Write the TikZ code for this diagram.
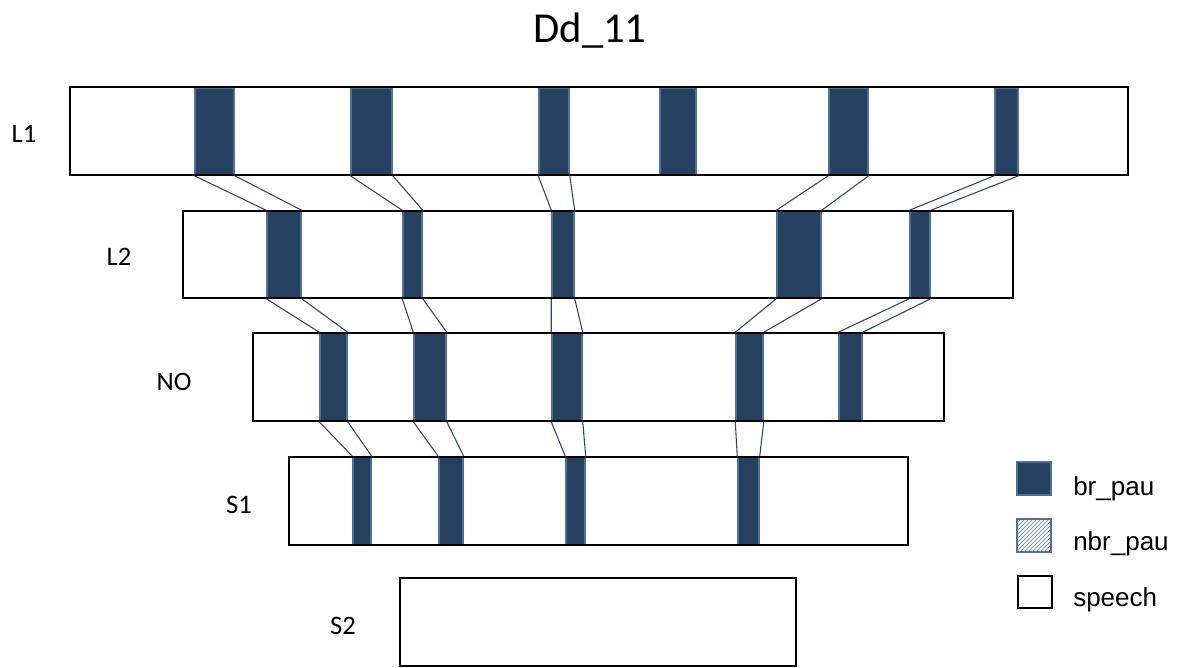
\documentclass[tikz,border=0pt]{standalone}
\usepackage{xcolor}
\usepackage{fontspec}
\setmainfont{Carlito}
\newfontfamily\legendfont{Liberation Sans}
\usepackage{tikz}
\usetikzlibrary{fit,patterns}

\definecolor{pauFill}{RGB}{38,64,96}
\definecolor{pauEdge}{RGB}{79,112,158}
\definecolor{linkCol}{RGB}{44,70,104}

\tikzset{
  speech/.style={draw=black,line width=1.6pt,inner sep=0pt},
  brpau/.style={fill=pauFill,draw=pauEdge,line width=1.1pt,inner sep=0pt},
  nbrpau/.style={pattern=north east lines,pattern color=pauEdge,draw=pauEdge,line width=1.6pt,inner sep=0pt},
  link/.style={draw=linkCol,line width=0.8pt},
  tierlabel/.style={inner sep=0pt,font=\fontsize{20}{24}\selectfont}
}

\begin{document}
\begin{tikzpicture}[x=0.75pt,y=0.75pt,yscale=-1,xscale=1]
\useasboundingbox (0,0) rectangle (1183,668);

% Title
\node[anchor=base,inner sep=0pt,font=\fontsize{32}{38}\selectfont] (title) at (590,42) {Dd\_11};

% Pauses L1
\node[brpau,fit={(195,88) (234,175)}] (l1a) {};
\node[brpau,fit={(351,88) (392,175)}] (l1b) {};
\node[brpau,fit={(539,88) (569,175)}] (l1c) {};
\node[brpau,fit={(660,88) (696,175)}] (l1d) {};
\node[brpau,fit={(829,88) (868,175)}] (l1e) {};
\node[brpau,fit={(995,88) (1018,175)}] (l1f) {};
% Pauses L2
\node[brpau,fit={(267,211) (301,298)}] (l2a) {};
\node[brpau,fit={(403,211) (422,298)}] (l2b) {};
\node[brpau,fit={(552,211) (574,298)}] (l2c) {};
\node[brpau,fit={(777,211) (821,298)}] (l2d) {};
\node[brpau,fit={(910,211) (930,298)}] (l2e) {};
% Pauses NO
\node[brpau,fit={(320,333) (347,421)}] (noa) {};
\node[brpau,fit={(414,333) (446,421)}] (nob) {};
\node[brpau,fit={(552,333) (582,421)}] (noc) {};
\node[brpau,fit={(736,333) (763,421)}] (nod) {};
\node[brpau,fit={(839,333) (862,421)}] (noe) {};
% Pauses S1
\node[brpau,fit={(353,457) (371,545)}] (s1a) {};
\node[brpau,fit={(439,457) (463,545)}] (s1b) {};
\node[brpau,fit={(566,457) (585,545)}] (s1c) {};
\node[brpau,fit={(738,457) (759,545)}] (s1d) {};

% Tiers
\node[speech,fit={(70,87) (1128,175)}] (L1) {};
\node[speech,fit={(183,211) (1013,298)}] (L2) {};
\node[speech,fit={(253,333) (944,421)}] (NO) {};
\node[speech,fit={(289,457) (908,545)}] (S1) {};
\node[speech,fit={(400,578) (796,666)}] (S2) {};

% Tier labels
\node[tierlabel] (lblL1) at (24,134) {L1};
\node[tierlabel] (lblL2) at (119,257) {L2};
\node[tierlabel] (lblNO) at (174,382) {NO};
\node[tierlabel] (lblS1) at (239,505) {S1};
\node[tierlabel] (lblS2) at (343,626) {S2};

%Straight Lines L1 - L2
\draw[link] (l1a.south west) -- (l2a.north west) (l1a.south east) -- (l2a.north east);
\draw[link] (l1b.south west) -- (l2b.north west) (l1b.south east) -- (l2b.north east);
\draw[link] (l1c.south west) -- (l2c.north west) (l1c.south east) -- (l2c.north east);
\draw[link] (l1e.south west) -- (l2d.north west) (l1e.south east) -- (l2d.north east);
\draw[link] (l1f.south west) -- (l2e.north west) (l1f.south east) -- (l2e.north east);
%Straight Lines L2 - NO
\draw[link] (l2a.south west) -- (noa.north west) (l2a.south east) -- (noa.north east);
\draw[link] (l2b.south west) -- (nob.north west) (l2b.south east) -- (nob.north east);
\draw[link] (l2c.south west) -- (noc.north west) (l2c.south east) -- (noc.north east);
\draw[link] (l2d.south west) -- (nod.north west) (l2d.south east) -- (nod.north east);
\draw[link] (l2e.south west) -- (noe.north west) (l2e.south east) -- (noe.north east);
%Straight Lines NO - S1
\draw[link] (noa.south west) -- (s1a.north west) (noa.south east) -- (s1a.north east);
\draw[link] (nob.south west) -- (s1b.north west) (nob.south east) -- (s1b.north east);
\draw[link] (noc.south west) -- (s1c.north west) (noc.south east) -- (s1c.north east);
\draw[link] (nod.south west) -- (s1d.north west) (nod.south east) -- (s1d.north east);

% Legend
\node[brpau,line width=1.6pt,fit={(1017,462) (1051,495)}] (keyBr) {};
\node[nbrpau,fit={(1017,519) (1051,552)}] (keyNbr) {};
\node[speech,fit={(1018,576) (1052,608)}] (keySp) {};
\node[anchor=base west,inner sep=0pt,font=\legendfont\fontsize{19.5}{23}\selectfont] (txtBr) at (1073,495) {br\_pau};
\node[anchor=base west,inner sep=0pt,font=\legendfont\fontsize{19.5}{23}\selectfont] (txtNbr) at (1073,550) {nbr\_pau};
\node[anchor=base west,inner sep=0pt,font=\legendfont\fontsize{19.5}{23}\selectfont] (txtSp) at (1073,606) {speech};

\end{tikzpicture}
\end{document}
